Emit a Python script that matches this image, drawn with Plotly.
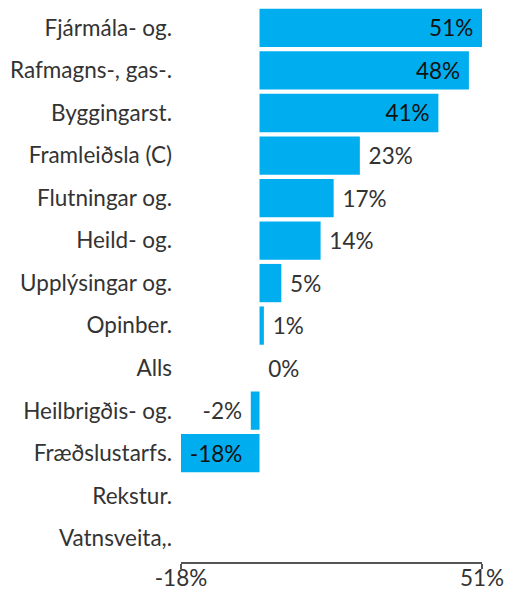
import plotly.graph_objects as go

categories = ["Fjármála- og.", "Rafmagns-, gas-.", "Byggingarst.", "Framleiðsla (C)",
              "Flutningar og.", "Heild- og.", "Upplýsingar og.", "Opinber.", "Alls",
              "Heilbrigðis- og.", "Fræðslustarfs.", "Rekstur.", "Vatnsveita,."]
values = [51, 48, 41, 23, 17, 14, 5, 1, 0, -2, -18, None, None]
inside_flags = [True, True, True, False, False, False, False, False, False, False, True, False, False]
tick_vals = [-18, 51]
tick_text = ["-18%", "51%"]

FONT = "Lato, sans-serif"
FS = 22.5
NB = "\u00a0"
texts, positions = [], []
for v, ins in zip(values, inside_flags):
    if v is None:
        texts.append("")
        positions.append("none")
        continue
    lab = f"{v}%"
    if ins:
        lab = (NB + lab) if v < 0 else (lab + NB)
        positions.append("inside")
    else:
        lab = (lab + NB) if v < 0 else (NB + lab)
        positions.append("outside")
    texts.append(lab)

fig = go.Figure(go.Bar(
    x=values, y=categories, orientation="h",
    marker=dict(color="#00aeef", line=dict(width=0)),
    text=texts, textposition=positions, insidetextanchor="end",
    textfont=dict(family=FONT, size=FS, color="#222222"),
    outsidetextfont=dict(family=FONT, size=FS, color="#333333"),
    insidetextfont=dict(family=FONT, size=FS, color="#111111"),
    constraintext="none",
    cliponaxis=False, hoverinfo="skip",
))

fig.update_layout(
    width=511, height=596,
    margin=dict(l=181, r=29, t=5, b=34),
    plot_bgcolor="white", paper_bgcolor="white",
    bargap=0.1, showlegend=False,
    font=dict(family=FONT, size=FS, color="#333333"),
)
fig.update_xaxes(
    range=[-18, 51], tickvals=tick_vals, ticktext=tick_text,
    showgrid=True, gridcolor="#dddddd", gridwidth=1,
    zeroline=False, showline=True, linecolor="#555555", linewidth=2,
    ticks="outside", ticklen=5, tickwidth=2, tickcolor="#555555",
    tickfont=dict(family=FONT, size=FS, color="#333333"),
    ticklabelstandoff=-10,
)
fig.update_yaxes(
    type="category", categoryorder="array", categoryarray=categories,
    range=[12.56, -0.54], showgrid=False, zeroline=False, showline=False,
    ticks="", ticklabelstandoff=8,
    tickfont=dict(family=FONT, size=FS, color="#333333"),
    automargin=False,
)

fig.write_html("out.html", config={"displayModeBar": False},
               post_script="document.body.style.margin='0';")
